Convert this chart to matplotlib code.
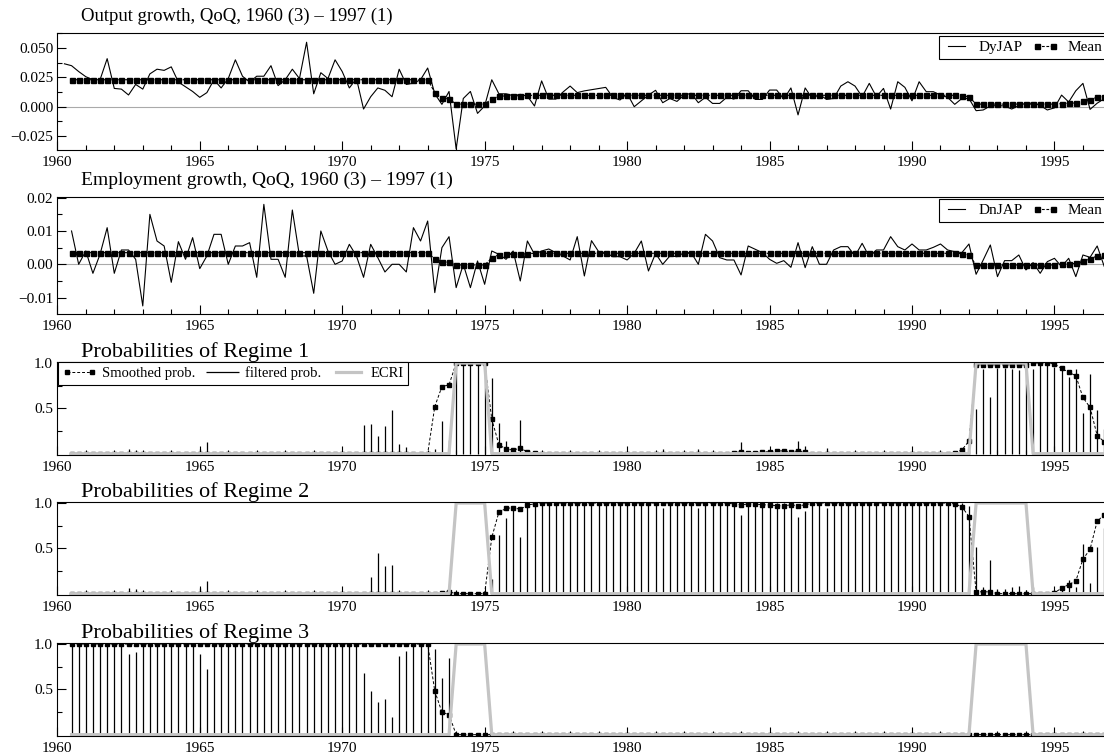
import numpy as np
import matplotlib
matplotlib.use("Agg")
import matplotlib.pyplot as plt
from matplotlib.ticker import MultipleLocator, FuncFormatter

plt.rcParams['font.family'] = ['Liberation Serif', 'DejaVu Serif']

# ---- data (quarterly, 1960(3) - 1997(1)) ----
quarters = 1960.5 + 0.25 * np.arange(147)
quarters_dy = 1960.25 + 0.25 * np.arange(148)   # output series starts one quarter earlier

dy_jap = [0.0366, 0.035, 0.030, 0.0256, 0.023, 0.023, 0.041, 0.0156, 0.015, 0.010,
          0.019, 0.015, 0.028, 0.032, 0.031, 0.034, 0.021, 0.017, 0.013, 0.008,
          0.012, 0.023, 0.016, 0.024, 0.040, 0.026, 0.021, 0.026, 0.026, 0.035,
          0.018, 0.023, 0.032, 0.024, 0.055, 0.011, 0.029, 0.024, 0.040, 0.030,
          0.016, 0.024, -0.002, 0.0085, 0.016, 0.014, 0.0085, 0.032, 0.019, 0.020,
          0.023, 0.033, 0.011, 0.002, 0.013, -0.036, 0.007, 0.013, -0.0057, 0.0006,
          0.023, 0.011, 0.011, 0.0094, 0.0105, 0.009, 0.0006, 0.022, 0.0065, 0.0065,
          0.0125, 0.0176, 0.012, 0.0135, 0.0145, 0.0155, 0.0165, 0.008, 0.0057, 0.0114,
          0.0, 0.005, 0.0099, 0.014, 0.0034, 0.007, 0.0045, 0.010, 0.0114, 0.0034,
          0.008, 0.0028, 0.0028, 0.008, 0.0065, 0.0136, 0.0136, 0.0062, 0.0062, 0.0142,
          0.0142, 0.0065, 0.016, -0.007, 0.016, 0.007, 0.0105, 0.0062, 0.007, 0.0176,
          0.0213, 0.0176, 0.0085, 0.0199, 0.0085, 0.0156, -0.002, 0.0213, 0.0165, 0.005,
          0.0213, 0.0128, 0.0128, 0.0099, 0.008, 0.002, 0.007, 0.007, -0.0034, -0.0028,
          0.0006, 0.001, 0.0006, -0.002, 0.001, 0.003, 0.003, 0.001, -0.0028, -0.001,
          0.0099, 0.004, 0.0136, 0.0199, -0.0023, 0.003, 0.0068, 0.012]

dn_jap = [0.010, 0.000, 0.004, -0.0027, 0.003, 0.011, -0.0027, 0.0043, 0.0043, 0.0015,
          -0.0125, 0.015, 0.007, 0.0055, -0.0054, 0.0068, 0.0015, 0.008, -0.0013, 0.0025,
          0.009, 0.009, 0.000, 0.0055, 0.0055, 0.0065, -0.0039, 0.018, 0.0015, 0.0015,
          -0.0039, 0.0163, 0.0025, 0.0025, -0.0087, 0.010, 0.004, 0.000, 0.001, 0.006,
          0.0025, -0.0039, 0.006, 0.002, -0.0023, 0.000, 0.000, -0.0023, 0.011, 0.007,
          0.013, -0.0085, 0.005, 0.0083, -0.007, 0.000, -0.007, 0.001, -0.006, 0.004,
          0.003, 0.0015, 0.004, -0.005, 0.007, 0.003, 0.004, 0.0046, 0.0035, 0.0025,
          0.0013, 0.0083, -0.0035, 0.0071, 0.0038, 0.0035, 0.0023, 0.0023, 0.0013, 0.0033,
          0.007, -0.002, 0.0033, 0.000, 0.0025, 0.0023, 0.0035, 0.0035, 0.000, 0.009,
          0.007, 0.002, 0.0013, 0.0013, -0.0032, 0.0055, 0.0045, 0.0035, 0.0015, 0.0003,
          0.0011, -0.0009, 0.0065, -0.001, 0.0053, 0.000, 0.000, 0.0043, 0.0053, 0.0053,
          0.0025, 0.0063, 0.0023, 0.0043, 0.0043, 0.0083, 0.0053, 0.0043, 0.0061, 0.0043,
          0.0043, 0.0051, 0.0061, 0.0043, 0.0038, 0.0035, 0.0061, -0.003, 0.0013, 0.0058,
          -0.0037, 0.0011, 0.0011, 0.0028, -0.0017, 0.0005, -0.0027, 0.0008, 0.0018, -0.0007,
          0.0018, -0.0037, 0.0028, 0.0021, 0.0055, -0.0007, 0.002]

mean_dy = ([0.023] * 51 + [0.0121, 0.0072, 0.0066] + [0.0022] * 5
           + [0.0067, 0.0088, 0.0093, 0.0094, 0.0093, 0.0096] + [0.0097] * 60
           + [0.0094, 0.0085] + [0.0022] * 12
           + [0.0026, 0.0029, 0.0032, 0.0049, 0.0058, 0.0082, 0.0087, 0.009])

mean_dn = ([0.0035] * 51 + [0.0016, 0.0008, 0.0006] + [-0.0002] * 5
           + [0.0019, 0.0029, 0.0031, 0.0031, 0.003, 0.0032] + [0.0033] * 60
           + [0.0032, 0.0028] + [-0.0002] * 12
           + [0.0000, 0.0001, 0.0003, 0.0011, 0.0015, 0.0026, 0.0028, 0.0029])

smooth1 = ([0.0] * 51 + [0.52, 0.74, 0.76] + [1.0] * 5
           + [0.38, 0.10, 0.05, 0.04, 0.06, 0.02, 0.01] + [0.0] * 27
           + [0.01, 0.02, 0.01, 0.01, 0.02, 0.02, 0.03, 0.03, 0.02, 0.03, 0.02]
           + [0.0] * 20 + [0.01, 0.04, 0.14] + [0.98] * 8 + [1.0] * 3
           + [0.99, 0.94, 0.90, 0.86, 0.62, 0.51, 0.20, 0.13, 0.10])
smooth2 = ([0.0] * 52 + [0.01, 0.02] + [0.0] * 5
           + [0.62, 0.90, 0.94, 0.95, 0.93, 0.98, 0.99] + [1.0] * 27
           + [0.99, 0.98, 0.99, 0.99, 0.98, 0.98, 0.97, 0.97, 0.98, 0.97, 0.98]
           + [1.0] * 20 + [0.99, 0.96, 0.85] + [0.02] * 3 + [0.0] * 8
           + [0.01, 0.06, 0.10, 0.14, 0.38, 0.49, 0.80, 0.87, 0.90])
smooth3 = [1.0] * 51 + [0.48, 0.25, 0.22] + [0.0] * 93

filt1 = ([0.0] * 7 + [0.01, 0.05, 0.04] + [0.0] * 8 + [0.05, 0.13] + [0.0] * 21
         + [0.32, 0.33, 0.19, 0.30, 0.48, 0.11, 0.07] + [0.0] * 3 + [0.05, 0.36, 0.15]
         + [1.0] * 5 + [0.84, 0.34, 0.14, 0.04, 0.37, 0.03] + [0.0] * 18 + [0.05]
         + [0.0] * 4 + [0.05] + [0.0] * 5 + [0.13] + [0.0] * 7 + [0.14, 0.08, 0.0, 0.0, 0.06]
         + [0.0] * 19 + [0.03]
         + [0.49, 0.93, 0.63, 0.95, 0.95, 0.93, 0.92, 0.96, 0.93, 1.0,
            1.0, 0.96, 0.92, 0.85, 0.93, 0.45, 0.88, 0.48, 0.27, 0.20])
filt2 = ([0.0] * 7 + [0.01, 0.06, 0.05] + [0.0] * 8 + [0.06, 0.14] + [0.0] * 22
         + [0.18, 0.45, 0.31, 0.32, 0.02, 0.01] + [0.0] * 4 + [0.02, 0.0] + [0.0] * 5
         + [0.16, 0.65, 0.84, 0.96, 0.63, 0.97] + [1.0] * 18 + [0.95] + [1.0] * 4 + [0.95]
         + [1.0] * 5 + [0.87] + [1.0] * 7 + [0.85, 0.91, 1.0, 1.0, 0.94] + [1.0] * 19 + [0.97]
         + [0.51, 0.07, 0.37, 0.05, 0.05, 0.07, 0.08, 0.04, 0.07, 0.0,
            0.0, 0.04, 0.08, 0.15, 0.07, 0.55, 0.12, 0.52, 0.73, 0.80])
filt3 = ([1.0] * 7 + [0.98, 0.89, 0.91] + [1.0] * 8 + [0.89, 0.73] + [1.0] * 21
         + [0.68, 0.48, 0.36, 0.39, 0.20, 0.87, 0.92] + [1.0] * 3 + [0.95, 0.62, 0.85]
         + [0.0] * 93)

ecri = [0] * 54 + [1] * 5 + [0] * 68 + [1] * 8 + [0] * 12

# ---- layout (pixel based) ----
W, H = 1104, 753
X0 = 57.3
PX_PER_YEAR = 28.49
XMAX = 1997.25
fig = plt.figure(figsize=(W / 100, H / 100), dpi=100)


def add_panel(top, bottom):
    right = X0 + (XMAX - 1960) * PX_PER_YEAR
    return fig.add_axes([X0 / W, 1 - bottom / H, (right - X0) / W, (bottom - top) / H])


def minus_fmt(dec):
    return FuncFormatter(lambda v, p: f"{v:.{dec}f}".replace('-', '\u2212'))


def style(ax):
    ax.set_xlim(1960, XMAX)
    ax.xaxis.set_major_locator(MultipleLocator(5))
    ax.xaxis.set_minor_locator(MultipleLocator(1))
    ax.tick_params(which='both', direction='in', top=False, right=False,
                   labelsize=11, width=0.8)
    ax.tick_params(which='major', length=6.5)
    ax.tick_params(which='minor', length=3.6)
    ax.tick_params(axis='x', pad=4)
    ax.tick_params(axis='y', pad=3)
    for s in ax.spines.values():
        s.set_linewidth(0.8)


mean_style = dict(color='black', lw=0.8, ls=(0, (2.5, 1.5)), marker='s', ms=3.6)
smooth_style = dict(color='black', lw=0.7, ls=(0, (3, 2)), marker='s', ms=2.8)


def legend_top(ax, top_px):
    leg = ax.legend(loc='upper left', bbox_to_anchor=(938.6 / W, 1 - top_px / H),
                    bbox_transform=fig.transFigure, ncol=2, fontsize=11,
                    frameon=True, fancybox=False, edgecolor='black', framealpha=1,
                    handlelength=1.7, handletextpad=0.6, columnspacing=0.62,
                    borderpad=0.3, borderaxespad=0, numpoints=2)
    leg.get_frame().set_linewidth(0.8)


# Panel 1: output growth
ax1 = add_panel(33.3, 150)
style(ax1)
ax1.set_ylim(-0.03695, 0.06263)
ax1.yaxis.set_major_locator(MultipleLocator(0.025))
ax1.yaxis.set_minor_locator(MultipleLocator(0.0125))
ax1.yaxis.set_major_formatter(minus_fmt(3))
ax1.axhline(0, color='#aaaaaa', lw=0.8, zorder=1)
ax1.plot(quarters_dy, dy_jap, color='black', lw=0.8, label='DyJAP')
ax1.plot(quarters, mean_dy, label='Mean', **mean_style)
legend_top(ax1, 35.7)
fig.text(81 / W, 1 - 21 / H, "Output growth, QoQ, 1960 (3) \u2013 1997 (1)",
         fontsize=13.5, va='baseline', ha='left')

# Panel 2: employment growth
ax2 = add_panel(196.7, 314)
style(ax2)
ax2.set_ylim(-0.01492, 0.0203)
ax2.yaxis.set_major_locator(MultipleLocator(0.01))
ax2.yaxis.set_minor_locator(MultipleLocator(0.005))
ax2.yaxis.set_major_formatter(minus_fmt(2))
ax2.axhline(0, color='#aaaaaa', lw=0.8, zorder=1)
ax2.plot(quarters, dn_jap, color='black', lw=0.8, label='DnJAP')
ax2.plot(quarters, mean_dn, label='Mean', **mean_style)
legend_top(ax2, 199)
fig.text(81 / W, 1 - 185 / H, "Employment growth, QoQ, 1960 (3) \u2013 1997 (1)",
         fontsize=14, va='baseline', ha='left')

# Panels 3-5: regime probabilities
regimes = [
    ("Probabilities of Regime 1", smooth1, filt1, 361.7, 455, 357.3),
    ("Probabilities of Regime 2", smooth2, filt2, 501.7, 595, 497.3),
    ("Probabilities of Regime 3", smooth3, filt3, 642.7, 736, 638.3),
]
for i, (title, sm, fi, top, bottom, base) in enumerate(regimes):
    ax = add_panel(top, bottom)
    style(ax)
    ax.set_ylim(-0.015, 1.015)
    ax.set_yticks([0.5, 1.0])
    ax.set_yticks([0.25, 0.75], minor=True)
    ax.yaxis.set_major_formatter(minus_fmt(1))
    ax.vlines(quarters, 0, fi, colors='black', lw=0.9, zorder=1.8, label='filtered prob.')
    ax.plot(quarters, sm, zorder=1.9, label='Smoothed prob.', **smooth_style)
    ax.plot(quarters, ecri, color='#c4c4c4', lw=2.3, zorder=2.2, label='ECRI')
    fig.text(81 / W, 1 - base / H, title, fontsize=16, va='baseline', ha='left')
    if i == 0:
        h, l = ax.get_legend_handles_labels()
        order = [l.index('Smoothed prob.'), l.index('filtered prob.'), l.index('ECRI')]
        leg = ax.legend([h[j] for j in order], [l[j] for j in order],
                        loc='upper left', bbox_to_anchor=(58.2 / W, 1 - 362.3 / H),
                        bbox_transform=fig.transFigure, ncol=3, fontsize=10.5,
                        frameon=True, fancybox=False, edgecolor='black', framealpha=1,
                        handlelength=2.3, handletextpad=0.4, columnspacing=0.7,
                        borderpad=0.3, borderaxespad=0, numpoints=2)
        leg.get_frame().set_linewidth(0.8)

fig.savefig("out.png", dpi=100)
